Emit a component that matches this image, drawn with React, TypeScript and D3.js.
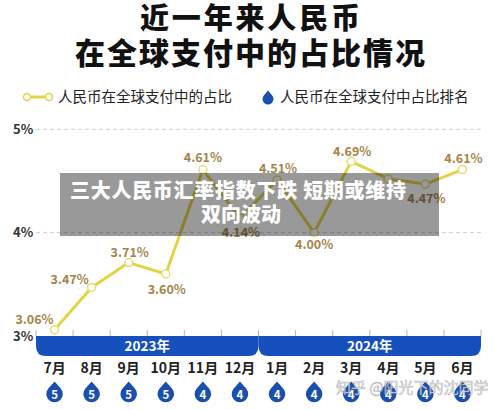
import React from "react";
import * as d3 from "d3";

const months = ["7月", "8月", "9月", "10月", "11月", "12月", "1月", "2月", "3月", "4月", "5月", "6月"];
const shareValues = [3.06, 3.47, 3.71, 3.6, 4.61, 4.14, 4.51, 4.0, 4.69, 4.52, 4.47, 4.61];
const showLabel = [true, true, true, true, true, true, true, true, true, false, true, true];
const rankValues = [5, 5, 5, 5, 4, 4, 4, 4, 4, 4, 4, 4];
const years = [
  { label: "2023年", from: 0, to: 5 },
  { label: "2024年", from: 6, to: 11 },
];
const yTicks = [3, 4, 5];
const gridTicks = [4, 5];

// label placement (style only): [dx, dy] relative to point
const labelOffset: [number, number][] = [
  [-20, -10], [-22, -8], [1, -10], [1, 16], [0, -12], [1, 14],
  [1, -11], [0, 12], [1, -10], [0, -12], [1, 14], [1, -11],
];

const FONT = "'Noto Sans CJK SC', 'Noto Sans', sans-serif";
const LINE = "#e2d446";
const LABEL = "#a4844a";
const BLUE = "#1650bd";
const DROP = "#1a4fae";

function dropPath(cx: number, cy: number, r: number, t: number) {
  const ca = r / t;
  const sa = Math.sqrt(1 - ca * ca);
  const x1 = cx + r * sa, y1 = cy - r * ca;
  const x2 = cx - r * sa;
  return `M${cx},${cy - t} L${x1},${y1} A${r},${r} 0 1 1 ${x2},${y1} Z`;
}

function bandPath(x0: number, x1: number, y0: number, y1: number, r: number) {
  return `M${x0},${y0} L${x1},${y0} L${x1},${y1 - r} Q${x1},${y1} ${x1 - r},${y1} L${x0 + r},${y1} Q${x0},${y1} ${x0},${y1 - r} Z`;
}

export default function App() {
  const x = d3.scaleBand<string>().domain(months).range([36, 481]).padding(0);
  const y = d3.scaleLinear().domain([3, 5]).range([336, 129.3]);
  const cx = (i: number) => (x(months[i]) as number) + x.bandwidth() / 2;
  const line = d3
    .line<number>()
    .x((_, i) => cx(i))
    .y((d) => y(d));
  const bandTop = y(3);
  const bandBottom = bandTop + 20;
  const boundaries = d3.range(months.length + 1).map((k) => 36 + k * x.bandwidth());

  return (
    <svg
      width={500}
      height={410}
      style={{ position: "absolute", left: 0, top: 0, background: "#fff" }}
      fontFamily={FONT}
    >
      <rect width={500} height={410} fill="#fff" />
      {/* Title */}
      <text x={250} y={29} textAnchor="middle" fontSize={29} fontWeight={900} fill="#111" textLength={220} lengthAdjust="spacing">
        近一年来人民币
      </text>
      <text x={250} y={64} textAnchor="middle" fontSize={30} fontWeight={900} fill="#111" textLength={350} lengthAdjust="spacing">
        在全球支付中的占比情况
      </text>

      {/* Legend */}
      <line x1={27} x2={49} y1={97} y2={97} stroke={LINE} strokeWidth={3} />
      <circle cx={27} cy={97} r={3.5} fill="#fff" stroke={LINE} strokeWidth={1.5} />
      <circle cx={49} cy={97} r={3.5} fill="#fff" stroke={LINE} strokeWidth={1.5} />
      <text x={58} y={102} fontSize={14.5} fill="#222">人民币在全球支付中的占比</text>
      <path d={dropPath(268, 99, 5.5, 8.5)} fill={DROP} />
      <text x={280} y={102} fontSize={14.5} fill="#222">人民币在全球支付中占比排名</text>

      {/* Grid */}
      {gridTicks.map((t) => (
        <line key={t} x1={36} x2={483} y1={y(t)} y2={y(t)} stroke="#cfcfcf" strokeWidth={1} strokeDasharray="4 3" />
      ))}
      {yTicks.map((t) => (
        <text key={t} x={13} y={y(t) + 4.5} fontSize={13} fontWeight={700} fill="#333">
          {t}%
        </text>
      ))}

      {/* ticks above band */}
      {boundaries.map((bx, k) => (
        <line key={k} x1={bx} x2={bx} y1={bandTop - 6} y2={bandTop} stroke="#b5b5b5" strokeWidth={1} />
      ))}

      {/* Year band */}
      {years.map((yr) => {
        const x0 = x(months[yr.from]) as number;
        const x1 = (x(months[yr.to]) as number) + x.bandwidth();
        return (
          <g key={yr.label}>
            <path d={bandPath(x0, x1, bandTop, bandBottom, 10)} fill={BLUE} />
            <text x={(x0 + x1) / 2} y={bandTop + 15} textAnchor="middle" fontSize={13.5} fontWeight={700} fill="#fff">
              {yr.label}
            </text>
          </g>
        );
      })}

      {/* Month labels & rank drops */}
      {months.map((m, i) => (
        <g key={m}>
          <text x={cx(i)} y={373} textAnchor="middle" fontSize={14} fontWeight={700} fill="#222">
            {m}
          </text>
          <path d={dropPath(cx(i), 394, 8.3, 12.5)} fill={DROP} />
          <text x={cx(i)} y={398.5} textAnchor="middle" fontSize={11.5} fontWeight={700} fill="#fff">
            {rankValues[i]}
          </text>
        </g>
      ))}

      {/* Line */}
      <path d={line(shareValues) as string} fill="none" stroke={LINE} strokeWidth={3} strokeLinejoin="round" />
      {shareValues.map((v, i) => (
        <circle key={i} cx={cx(i)} cy={y(v)} r={4} fill="#fff" stroke="#e6dc78" strokeWidth={1.5} />
      ))}
      {shareValues.map((v, i) =>
        showLabel[i] ? (
          <text
            key={i}
            x={cx(i) + labelOffset[i][0]}
            y={y(v) + labelOffset[i][1] + 4.5}
            textAnchor="middle"
            fontSize={12.5}
            fontWeight={700}
            fill={LABEL}
          >
            {v.toFixed(2)}%
          </text>
        ) : null
      )}

      {/* Overlay headline */}
      <rect x={60} y={173} width={379} height={63} fill="#000" opacity={0.4} />
      <text x={238} y={198} textAnchor="middle" fontSize={20} fontWeight={900} fill="#fff" textLength={336} lengthAdjust="spacing">
        三大人民币汇率指数下跌 短期或维持
      </text>
      <text x={241} y={222} textAnchor="middle" fontSize={20} fontWeight={900} fill="#fff">
        双向波动
      </text>

      {/* Watermark */}
      <text x={336} y={393} fontSize={15} fill="#f2f2f2" fillOpacity={0.85} stroke="#9a9a9a" strokeWidth={0.6} strokeOpacity={0.7}>
        知乎 @阳光下的沈同学
      </text>
    </svg>
  );
}
